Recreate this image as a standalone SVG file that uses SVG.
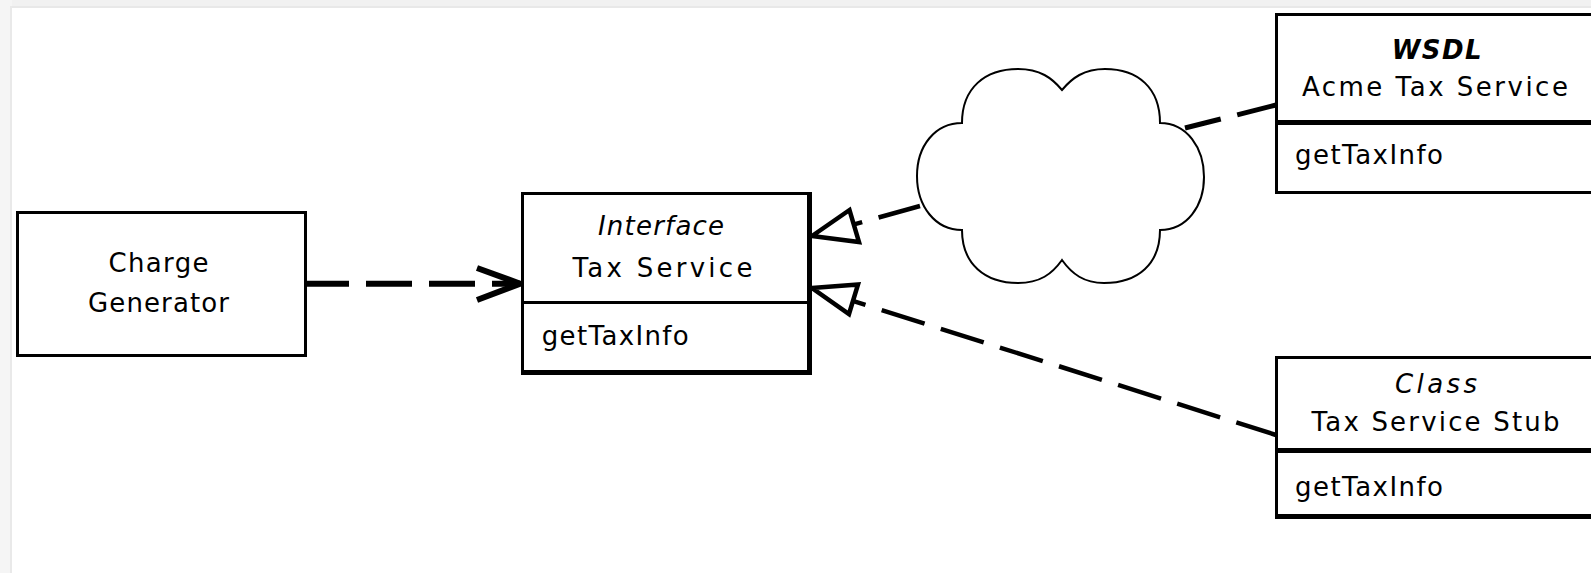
<svg xmlns="http://www.w3.org/2000/svg" width="1591" height="573" viewBox="0 0 1591 573">
<style>
  .box { fill: #ffffff; stroke: #000000; }
  .edge { stroke: #000000; fill: none; }
  .t { font-family: "DejaVu Sans", "Liberation Sans", sans-serif; font-size: 26px; fill: #000000; }
  .c { text-anchor: middle; }
  .i { font-style: italic; }
  .bi { font-style: italic; font-weight: bold; }
  .conn { stroke: #000000; fill: none; }
  .tri { stroke: #000000; fill: #ffffff; stroke-width: 4.5; stroke-linejoin: miter; }
</style>
<rect x="0" y="0" width="1591" height="573" fill="#ffffff"/>
<rect x="0" y="0" width="1591" height="8" fill="#f1f1f1"/>
<rect x="0" y="6" width="1591" height="2" fill="#e8e8e8"/>
<rect x="0" y="0" width="12" height="573" fill="#f5f5f5"/>
<rect x="10" y="6" width="2" height="567" fill="#e9e9e9"/>

<g id="connectors">
  <!-- Charge Generator -> Interface -->
  <path class="conn" d="M303,283.7 L520,283.7" stroke-width="6" stroke-dasharray="46 17"/>
  <path class="conn" d="M477,268 L520,283.7 L477,300" stroke-width="6" stroke-linejoin="miter"/>
  <!-- Cloud -> Interface -->
  <path class="conn" d="M920,206 L812,236" stroke-width="4.5" stroke-dasharray="43 17"/>
  <polygon class="tri" points="812,236 849.5,210 859,242"/>
  <!-- Class stub -> Interface -->
  <path class="conn" d="M812,288 L1276,435" stroke-width="4.5" stroke-dasharray="45 17" stroke-dashoffset="50.9"/>
  <polygon class="tri" points="812,288 858,284.5 849,314"/>
  <!-- Cloud -> WSDL -->
  <path class="conn" d="M1276,105 L1185,128" stroke-width="5" stroke-dasharray="40 17"/>
</g>

<g id="cloud">
  <path d="M962,123 C962,88 985,69 1018,69 C1040,69 1052,78 1062,90 C1072,78 1084,69 1105,69 C1138,69 1160,88 1160,123 C1187,123 1204,148 1204,177 C1204,206 1187,230 1160,230 C1160,264 1138,283 1104,283 C1084,283 1072,274 1062,260 C1052,274 1040,283 1018,283 C985,283 962,264 962,230 C935,230 917,206 917,176 C917,146 935,123 962,123 Z" fill="#ffffff" stroke="#000000" stroke-width="2"/>
</g>

<g id="charge-generator">
  <rect class="box" x="17.5" y="212.5" width="288" height="143" stroke-width="3" shape-rendering="crispEdges"/>
  <text class="t c" x="158.5" y="272" textLength="100" lengthAdjust="spacing">Charge</text>
  <text class="t c" x="158.5" y="312" textLength="141" lengthAdjust="spacing">Generator</text>
</g>

<g id="tax-service-interface" shape-rendering="crispEdges">
  <rect x="521" y="192" width="291" height="183" fill="#ffffff"/>
  <line class="edge" x1="522.5" y1="192" x2="522.5" y2="375" stroke-width="3"/>
  <line class="edge" x1="521" y1="193.5" x2="812" y2="193.5" stroke-width="3"/>
  <line class="edge" x1="809.5" y1="192" x2="809.5" y2="375" stroke-width="5"/>
  <line class="edge" x1="521" y1="372.5" x2="812" y2="372.5" stroke-width="5"/>
  <line class="edge" x1="521" y1="302" x2="812" y2="302" stroke-width="3"/>
  <text class="t c i" x="661" y="235" textLength="126" lengthAdjust="spacing">Interface</text>
  <text class="t c" x="662.4" y="277" textLength="180" lengthAdjust="spacing">Tax Service</text>
  <text class="t" x="541.7" y="345" textLength="147" lengthAdjust="spacing">getTaxInfo</text>
</g>

<g id="acme-wsdl" shape-rendering="crispEdges">
  <rect x="1275" y="12.5" width="330" height="181.5" fill="#ffffff"/>
  <line class="edge" x1="1276.5" y1="12.5" x2="1276.5" y2="194" stroke-width="3"/>
  <line class="edge" x1="1275" y1="14" x2="1591" y2="14" stroke-width="3"/>
  <line class="edge" x1="1275" y1="122.5" x2="1591" y2="122.5" stroke-width="5"/>
  <line class="edge" x1="1275" y1="192.5" x2="1591" y2="192.5" stroke-width="3"/>
  <text class="t c bi" x="1436.7" y="59" textLength="90" lengthAdjust="spacing">WSDL</text>
  <text class="t c" x="1434.9" y="95.5" textLength="266" lengthAdjust="spacing">Acme Tax Service</text>
  <text class="t" x="1295" y="164" textLength="148" lengthAdjust="spacing">getTaxInfo</text>
</g>

<g id="tax-service-stub" shape-rendering="crispEdges">
  <rect x="1275" y="356" width="330" height="162.5" fill="#ffffff"/>
  <line class="edge" x1="1276.5" y1="356" x2="1276.5" y2="518.5" stroke-width="3"/>
  <line class="edge" x1="1275" y1="357.5" x2="1591" y2="357.5" stroke-width="3"/>
  <line class="edge" x1="1275" y1="450" x2="1591" y2="450" stroke-width="5"/>
  <line class="edge" x1="1275" y1="516" x2="1591" y2="516" stroke-width="5"/>
  <text class="t c i" x="1436" y="393" textLength="82" lengthAdjust="spacing">Class</text>
  <text class="t c" x="1435.5" y="431" textLength="248" lengthAdjust="spacing">Tax Service Stub</text>
  <text class="t" x="1295" y="496" textLength="148" lengthAdjust="spacing">getTaxInfo</text>
</g>
</svg>
